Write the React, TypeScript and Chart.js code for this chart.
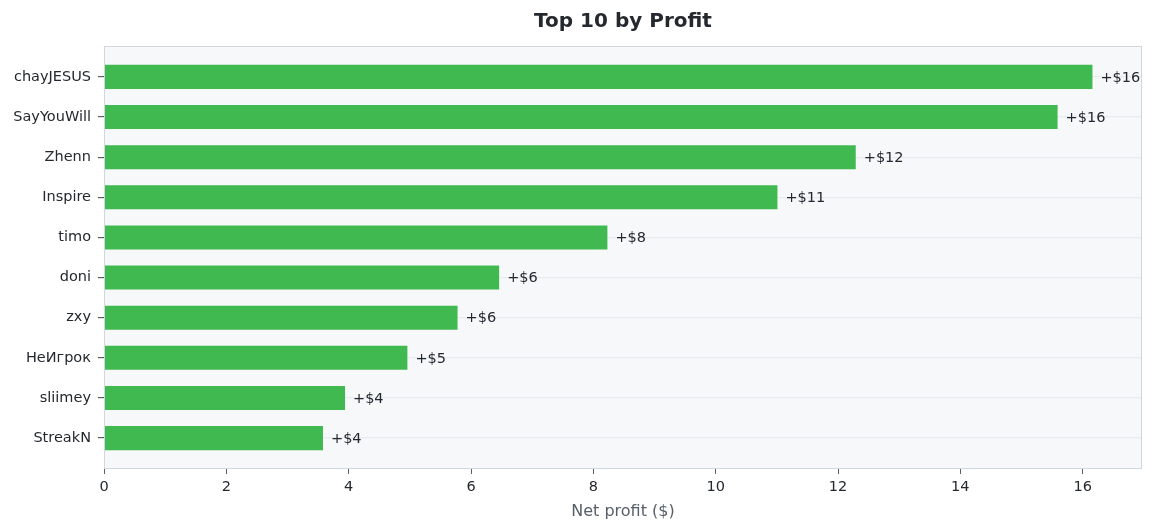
import { useEffect, useRef } from "react"
import { Chart, registerables } from "chart.js"

Chart.register(...registerables)

const players = [
  "chayJESUS",
  "SayYouWill",
  "Zhenn",
  "Inspire",
  "timo",
  "doni",
  "zxy",
  "НеИгрок",
  "sliimey",
  "StreakN",
]
const profits = [16.16, 15.59, 12.29, 11.01, 8.23, 6.46, 5.78, 4.96, 3.94, 3.58]
const xTicks = [0, 2, 4, 6, 8, 10, 12, 14, 16]

const FONT = "'DejaVu Sans', sans-serif"

// background, frame, title and value labels
const decorPlugin = {
  id: "decor",
  beforeDraw(chart: any) {
    const { ctx, chartArea: a } = chart
    ctx.save()
    ctx.fillStyle = "#f6f8fa"
    ctx.fillRect(a.left, a.top, a.right - a.left, a.bottom - a.top)
    ctx.fillStyle = "#24292f"
    ctx.font = `bold 20px ${FONT}`
    ctx.textAlign = "center"
    ctx.textBaseline = "middle"
    ctx.fillText("Top 10 by Profit", (a.left + a.right) / 2, 22)
    ctx.restore()
  },
  afterDatasetsDraw(chart: any) {
    const { ctx, chartArea: a } = chart
    ctx.save()
    ctx.strokeStyle = "#d0d7de"
    ctx.lineWidth = 1
    ctx.strokeRect(a.left + 0.5, a.top + 0.5, a.right - a.left - 1, a.bottom - a.top - 1)
    const meta = chart.getDatasetMeta(0)
    ctx.fillStyle = "#24292f"
    ctx.font = `14.5px ${FONT}`
    ctx.textAlign = "left"
    ctx.textBaseline = "middle"
    meta.data.forEach((bar: any, i: number) => {
      ctx.fillText("+$" + Math.round(profits[i]), bar.x + 8, bar.y + 1)
    })
    ctx.restore()
  },
}

export default function App() {
  const canvasRef = useRef<HTMLCanvasElement | null>(null)
  const chartRef = useRef<Chart | null>(null)

  useEffect(() => {
    document.body.style.margin = "0"
    if (!canvasRef.current) return
    const ctx = canvasRef.current.getContext("2d")
    if (!ctx) return
    if (chartRef.current) chartRef.current.destroy()

    chartRef.current = new Chart(ctx, {
      type: "bar",
      data: {
        datasets: [
          {
            label: "Net profit",
            data: profits.map((v, i) => ({ x: v, y: i })),
            backgroundColor: "#3fb950",
            borderWidth: 0,
            barPercentage: 0.6,
            categoryPercentage: 1,
          },
        ],
      },
      options: {
        indexAxis: "y",
        animation: false,
        responsive: false,
        layout: { padding: { top: 46, right: 12, left: 0, bottom: 0 } },
        plugins: {
          legend: { display: false },
          tooltip: { enabled: false },
          title: { display: false },
        },
        scales: {
          x: {
            type: "linear",
            min: 0,
            max: 16.97,
            afterBuildTicks: (scale: any) => {
              scale.ticks = xTicks.map((v) => ({ value: v }))
            },
            afterFit: (scale: any) => {
              scale.height = 62
            },
            border: { display: false },
            grid: { drawOnChartArea: false, tickLength: 5, tickColor: "#57606a" },
            ticks: { color: "#24292f", padding: 5, font: { family: FONT, size: 14.5 } },
            title: {
              display: true,
              text: "Net profit ($)",
              color: "#57606a",
              font: { family: FONT, size: 16 },
              padding: { top: 0, bottom: 10 },
            },
          },
          y: {
            type: "linear",
            reverse: true,
            offset: false,
            min: -0.77,
            max: 9.77,
            afterBuildTicks: (scale: any) => {
              scale.ticks = players.map((_, i) => ({ value: i }))
            },
            afterFit: (scale: any) => {
              scale.width = 104
            },
            border: { display: false },
            grid: { offset: false, color: "#e8ebf0", lineWidth: 1.2, tickLength: 6, tickColor: "#57606a" },
            ticks: {
              color: "#24292f",
              padding: 7,
              font: { family: FONT, size: 14.5 },
              callback: (v: any) => players[v] ?? "",
            },
          },
        },
      },
      plugins: [decorPlugin],
    } as any)

    return () => {
      if (chartRef.current) {
        chartRef.current.destroy()
        chartRef.current = null
      }
    }
  }, [])

  return (
    <div style={{ width: 1154, height: 531, background: "#fff" }}>
      <canvas ref={canvasRef} width={1154} height={531}></canvas>
    </div>
  )
}
